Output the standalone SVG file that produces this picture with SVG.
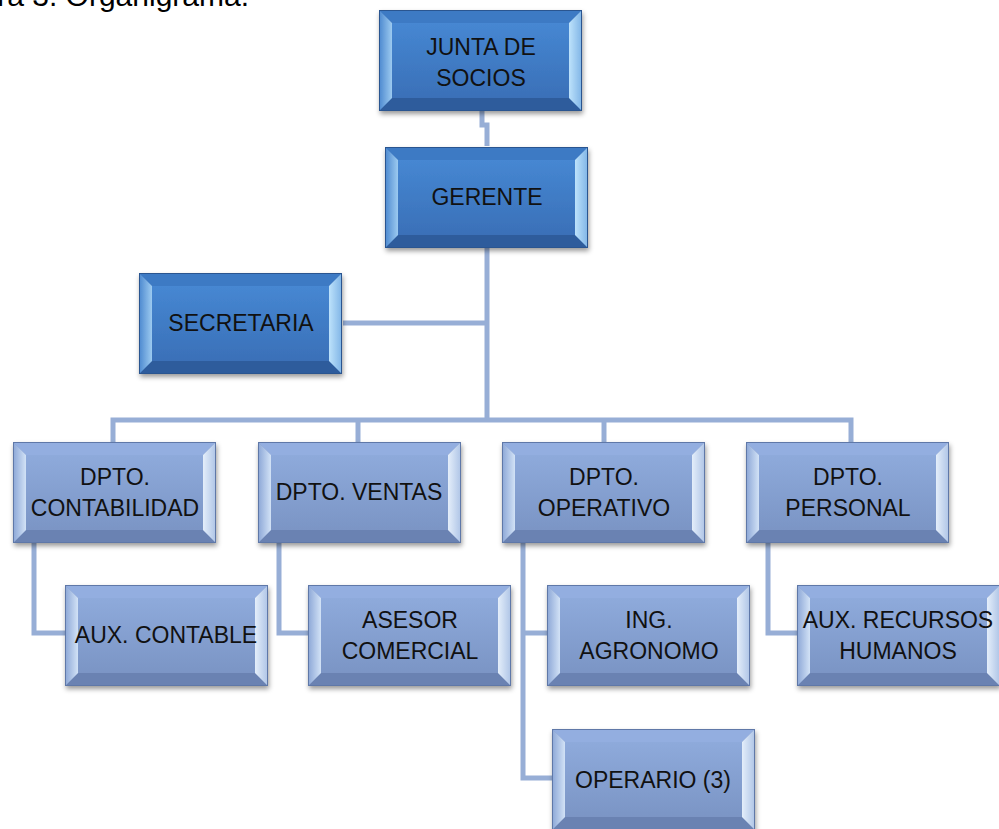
<svg xmlns="http://www.w3.org/2000/svg" xmlns:xlink="http://www.w3.org/1999/xlink" width="999" height="829" viewBox="0 0 999 829">
<style>
.lbl{font-family:"Liberation Sans","Noto Sans",Arial,sans-serif;font-size:23px;fill:#111;text-anchor:middle}
.conn{fill:none;stroke:#97aed6;stroke-width:5;stroke-linejoin:miter}
.cap{font-family:"Liberation Sans",Arial,sans-serif;font-size:30px;fill:#000;text-anchor:end}
</style>
<defs>
<filter id="sh" x="-10%" y="-10%" width="125%" height="130%">
<feDropShadow dx="1" dy="3" stdDeviation="2.5" flood-color="#000" flood-opacity="0.4"/>
</filter>
<linearGradient id="dFace" x1="0" y1="0" x2="0" y2="1"><stop offset="0" stop-color="#4687d2"/><stop offset="1" stop-color="#3a70b8"/></linearGradient>
<linearGradient id="dLeft" x1="0" y1="0" x2="1" y2="0"><stop offset="0" stop-color="#4b88cf"/><stop offset="1" stop-color="#9ccaf0"/></linearGradient>
<linearGradient id="dRight" x1="0" y1="0" x2="1" y2="0"><stop offset="0" stop-color="#bde2fb"/><stop offset="1" stop-color="#7fb4e6"/></linearGradient>
<linearGradient id="lFace" x1="0" y1="0" x2="0" y2="1"><stop offset="0" stop-color="#8eaadb"/><stop offset="1" stop-color="#7b95c5"/></linearGradient>
<linearGradient id="lLeft" x1="0" y1="0" x2="1" y2="0"><stop offset="0" stop-color="#8ba6d6"/><stop offset="1" stop-color="#d2e2f6"/></linearGradient>
<linearGradient id="lRight" x1="0" y1="0" x2="1" y2="0"><stop offset="0" stop-color="#e4eefa"/><stop offset="1" stop-color="#aec4e6"/></linearGradient>
<symbol id="boxD" viewBox="0 0 203 101" width="203" height="101" overflow="visible">
<g filter="url(#sh)">
<rect x="0" y="0" width="203" height="101" fill="#3a70b8"/>
<polygon points="0,0 203,0 190,13 13,13" fill="#3e7ac4"/>
<polygon points="0,101 203,101 190,88 13,88" fill="#2d5c9c"/>
<polygon points="0,0 13,13 13,88 0,101" fill="url(#dLeft)"/>
<polygon points="203,0 190,13 190,88 203,101" fill="url(#dRight)"/>
<rect x="13" y="13" width="177" height="75" fill="url(#dFace)"/>
<rect x="0.5" y="0.5" width="202" height="100" fill="none" stroke="#2b5590" stroke-width="1"/>
</g>
</symbol>
<symbol id="boxL" viewBox="0 0 203 101" width="203" height="101" overflow="visible">
<g filter="url(#sh)">
<rect x="0" y="0" width="203" height="101" fill="#7d96c6"/>
<polygon points="0,0 203,0 190,13 13,13" fill="#93aee0"/>
<polygon points="0,101 203,101 190,88 13,88" fill="#6a82b2"/>
<polygon points="0,0 13,13 13,88 0,101" fill="url(#lLeft)"/>
<polygon points="203,0 190,13 190,88 203,101" fill="url(#lRight)"/>
<rect x="13" y="13" width="177" height="75" fill="url(#lFace)"/>
<rect x="0.5" y="0.5" width="202" height="100" fill="none" stroke="#5e78a8" stroke-width="1"/>
</g>
</symbol>
</defs>
<rect width="999" height="829" fill="#fff"/>
<text class="cap" x="249" y="6">Figura 3. Organigrama.</text>
<g id="connectors">
<path class="conn" d="M482,110 V125 H487 V146"/>
<path class="conn" d="M487,248 V420"/>
<path class="conn" d="M343,323 H487"/>
<path class="conn" d="M113,442 V420 H851 V442"/>
<path class="conn" d="M358,420 V442"/>
<path class="conn" d="M604,420 V442"/>
<path class="conn" d="M34,542 V633 H65"/>
<path class="conn" d="M279,542 V633 H308"/>
<path class="conn" d="M523,542 V778 H552"/>
<path class="conn" d="M523,633 H547"/>
<path class="conn" d="M768,542 V633 H798"/>
</g>
<g id="junta"><use xlink:href="#boxD" x="379" y="10"/><text class="lbl" x="481" y="55">JUNTA DE</text><text class="lbl" x="481" y="86">SOCIOS</text></g>
<g id="gerente"><use xlink:href="#boxD" x="385" y="147"/><text class="lbl" x="487" y="205">GERENTE</text></g>
<g id="secretaria"><use xlink:href="#boxD" x="139" y="273"/><text class="lbl" x="241" y="331">SECRETARIA</text></g>
<g id="contabilidad"><use xlink:href="#boxL" x="13" y="442"/><text class="lbl" x="115" y="485">DPTO.</text><text class="lbl" x="115" y="516">CONTABILIDAD</text></g>
<g id="ventas"><use xlink:href="#boxL" x="258" y="442"/><text class="lbl" x="359" y="500">DPTO. VENTAS</text></g>
<g id="operativo"><use xlink:href="#boxL" x="502" y="442"/><text class="lbl" x="604" y="485">DPTO.</text><text class="lbl" x="604" y="516">OPERATIVO</text></g>
<g id="personal"><use xlink:href="#boxL" x="746" y="442"/><text class="lbl" x="848" y="485">DPTO.</text><text class="lbl" x="848" y="516">PERSONAL</text></g>
<g id="auxcontable"><use xlink:href="#boxL" x="65" y="585"/><text class="lbl" x="166" y="643">AUX. CONTABLE</text></g>
<g id="asesor"><use xlink:href="#boxL" x="308" y="585"/><text class="lbl" x="410" y="628">ASESOR</text><text class="lbl" x="410" y="659">COMERCIAL</text></g>
<g id="ingagronomo"><use xlink:href="#boxL" x="547" y="585"/><text class="lbl" x="649" y="628">ING.</text><text class="lbl" x="649" y="659">AGRONOMO</text></g>
<g id="auxrrhh"><use xlink:href="#boxL" x="797" y="585"/><text class="lbl" x="898" y="628">AUX. RECURSOS</text><text class="lbl" x="898" y="659">HUMANOS</text></g>
<g id="operario"><use xlink:href="#boxL" x="552" y="729"/><text class="lbl" x="653" y="788">OPERARIO (3)</text></g>
</svg>
